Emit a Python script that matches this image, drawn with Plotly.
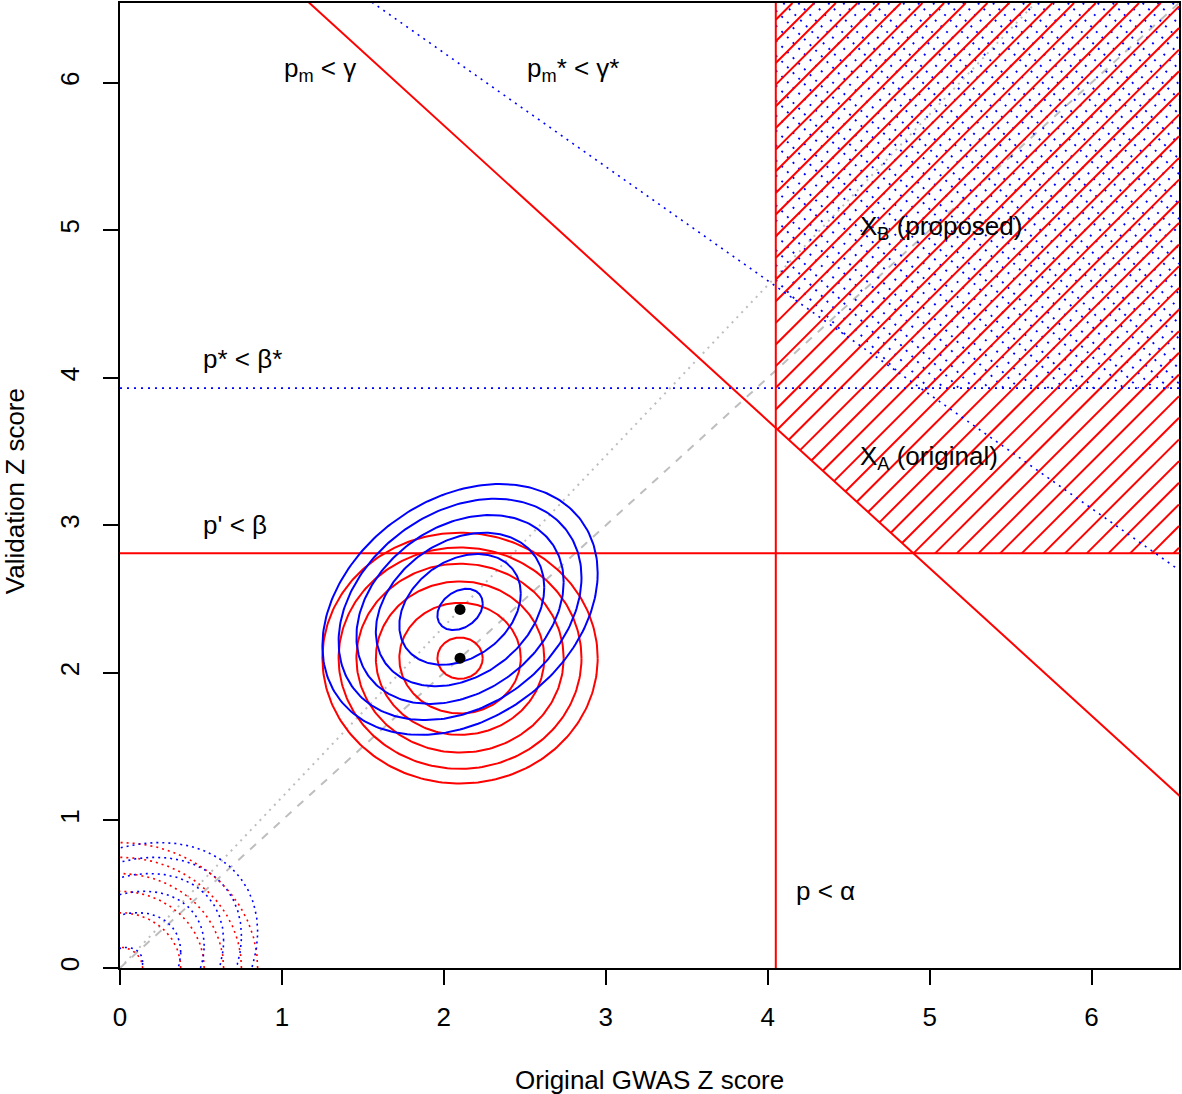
import numpy as np
import plotly.graph_objects as go

# ---------------- data ----------------
x_range = [0, 6.54]
y_range = [0, 6.54]
x_ticks = [0, 1, 2, 3, 4, 5, 6]
y_ticks = [0, 1, 2, 3, 4, 5, 6]

alpha_z = 4.05          # red vertical   : p < alpha
beta_z = 2.81           # red horizontal : p' < beta
gamma_sum = 7.71        # red diagonal   : x + y = const (pm < gamma)
beta_star_z = 3.93      # blue dotted horizontal : p* < beta*
gstar_x0, gstar_y0, gstar_slope = 4.05, 4.62, -0.772   # blue dotted diagonal (pm* < gamma*)
dashed_slope = 1.0      # gray dashed line through origin
dotted_slope = 1.157    # gray dotted line through origin

red_center = (2.1, 2.1)
blue_center = (2.1, 2.43)
null_center = (0.0, 0.0)
contour_radii = [0.14, 0.375, 0.52, 0.64, 0.75, 0.85]
blue_rho = 0.29

label_texts = ["p<sub>m</sub> &lt; γ", "p<sub>m</sub>* &lt; γ*", "p* &lt; β*", "p' &lt; β",
               "p &lt; α", "X<sub>B</sub> (proposed)", "X<sub>A</sub> (original)"]
label_x = [1.0, 2.5, 0.5, 0.5, 4.16, 4.56, 4.56]
label_y = [6.09, 6.09, 4.13, 3.0, 0.52, 5.02, 3.46]

# ---------------- layout geometry ----------------
W, H = 1182, 1094
ML, MR, MT, MB = 120, 1, 1, 126
plot_w = W - ML - MR
plot_h = H - MT - MB
kx = plot_w / (x_range[1] - x_range[0])
ky = plot_h / (y_range[1] - y_range[0])
hatch_slope = kx / ky            # 45 degrees on screen
hatch_dx = 21.7 / kx             # spacing of red hatch lines (horizontal)
blue_dx = 15.0 / kx              # spacing of blue dotted hatch lines

FONT = "Liberation Sans, Arial, Helvetica, sans-serif"
FS = 26
RED = "#FF0000"
BLUE = "#0000FF"
GRAY = "#BEBEBE"

fig = go.Figure()


def add_line(xs, ys, color, width=2, dash="solid"):
    fig.add_trace(go.Scatter(x=xs, y=ys, mode="lines", hoverinfo="skip",
                             line=dict(color=color, width=width, dash=dash),
                             showlegend=False))


def clip_line(m, q, cons, xlo, xhi):
    lo, hi = xlo, xhi
    for c1, c2, d in cons:
        a = c1 + c2 * m
        b = d - c2 * q
        if abs(a) < 1e-12:
            if b > 0:
                return None
            continue
        if a > 0:
            lo = max(lo, b / a)
        else:
            hi = min(hi, b / a)
    if lo >= hi:
        return None
    return (lo, m * lo + q), (hi, m * hi + q)


def hatch(m, q_list, cons):
    xs, ys = [], []
    for q in q_list:
        seg = clip_line(m, q, cons, x_range[0], x_range[1])
        if seg is None:
            continue
        (x1, y1), (x2, y2) = seg
        xs += [x1, x2, None]
        ys += [y1, y2, None]
    return xs, ys


# ----- gray reference lines -----
xx = np.array([0, x_range[1]])
add_line(xx, dashed_slope * xx, GRAY, 2, "8px,8px")
add_line(xx, dotted_slope * xx, GRAY, 2, "2px,5px")

# ----- hatching -----
blue_cons = [(1, 0, alpha_z), (-1, 0, -x_range[1]), (0, 1, beta_star_z), (0, -1, -y_range[1]),
             (-gstar_slope, 1, gstar_y0 - gstar_slope * gstar_x0)]
q_blue = [y_range[1] + hatch_slope * (alpha_z + (k + 0.5) * blue_dx) for k in range(-120, 120)]
bx, by = hatch(-hatch_slope, q_blue, blue_cons)
add_line(bx, by, BLUE, 1.8, "2px,6px")

red_cons = [(1, 0, alpha_z), (-1, 0, -x_range[1]), (0, 1, beta_z), (0, -1, -y_range[1]),
            (1, 1, gamma_sum)]
corner_x = gamma_sum - beta_z
q_red = [beta_z - hatch_slope * (corner_x + k * hatch_dx) for k in range(-80, 80)]
hx, hy = hatch(hatch_slope, q_red, red_cons)
add_line(hx, hy, RED, 2)

# ----- threshold lines -----
add_line([alpha_z, alpha_z], y_range, RED, 2)
add_line(x_range, [beta_z, beta_z], RED, 2)
add_line([0, gamma_sum], [gamma_sum, 0], RED, 2)
add_line(x_range, [beta_star_z, beta_star_z], BLUE, 1.6, "2px,5px")
add_line([0, x_range[1]], [gstar_y0 + gstar_slope * (0 - gstar_x0),
                           gstar_y0 + gstar_slope * (x_range[1] - gstar_x0)], BLUE, 1.6, "2px,5px")

# ----- contours -----
t = np.linspace(0, 2 * np.pi, 241)


def ellipse(center, r, rho):
    cx, cy = center
    return cx + r * np.cos(t), cy + r * (rho * np.cos(t) + np.sqrt(1 - rho ** 2) * np.sin(t))


for r in contour_radii:
    ex, ey = ellipse(null_center, r, 0.0)
    add_line(ex, ey, RED, 1.6, "2px,4px")
    ex, ey = ellipse(null_center, r, blue_rho)
    add_line(ex, ey, BLUE, 1.6, "2px,4px")

for r in contour_radii:
    ex, ey = ellipse(red_center, r, 0.0)
    add_line(ex, ey, RED, 2)
for r in contour_radii:
    ex, ey = ellipse(blue_center, r, blue_rho)
    add_line(ex, ey, BLUE, 2)

fig.add_trace(go.Scatter(x=[red_center[0], blue_center[0]], y=[red_center[1], blue_center[1]],
                         mode="markers", marker=dict(color="black", size=11),
                         hoverinfo="skip", showlegend=False))

# ----- labels -----
for txt, lx, ly in zip(label_texts, label_x, label_y):
    fig.add_annotation(x=lx, y=ly, xref="x", yref="y", text=txt, showarrow=False,
                       xanchor="left", yanchor="middle",
                       font=dict(family=FONT, size=FS, color="black"))

# axis titles
fig.add_annotation(x=(650 - ML) / plot_w, y=(MT + plot_h - 1080) / plot_h, xref="paper", yref="paper",
                   text="Original GWAS Z score", showarrow=False, xanchor="center", yanchor="middle",
                   font=dict(family=FONT, size=FS, color="black"))
fig.add_annotation(x=(15 - ML) / plot_w, y=(MT + plot_h - 490) / plot_h, xref="paper", yref="paper",
                   text="Validation Z score", showarrow=False, xanchor="center", yanchor="middle",
                   textangle=-90, font=dict(family=FONT, size=FS, color="black"))

axis_common = dict(showgrid=False, zeroline=False, showline=True, mirror=True,
                   linecolor="black", linewidth=2, ticks="outside", ticklen=15,
                   tickwidth=2, tickcolor="black",
                   tickfont=dict(family=FONT, size=FS, color="black"))

fig.update_layout(
    width=W, height=H,
    margin=dict(l=ML, r=MR, t=MT, b=MB, pad=0),
    plot_bgcolor="white", paper_bgcolor="white",
    xaxis=dict(range=x_range, tickvals=x_ticks, ticktext=[str(v) for v in x_ticks],
               ticklabelstandoff=10, **axis_common),
    yaxis=dict(range=y_range, tickvals=y_ticks, ticktext=[str(v) for v in y_ticks],
               tickangle=-90, ticklabelstandoff=14, **axis_common),
)

fig.write_html("out.html", config={"displayModeBar": False},
               post_script="document.body.style.margin='0px';document.body.style.overflow='hidden';")
